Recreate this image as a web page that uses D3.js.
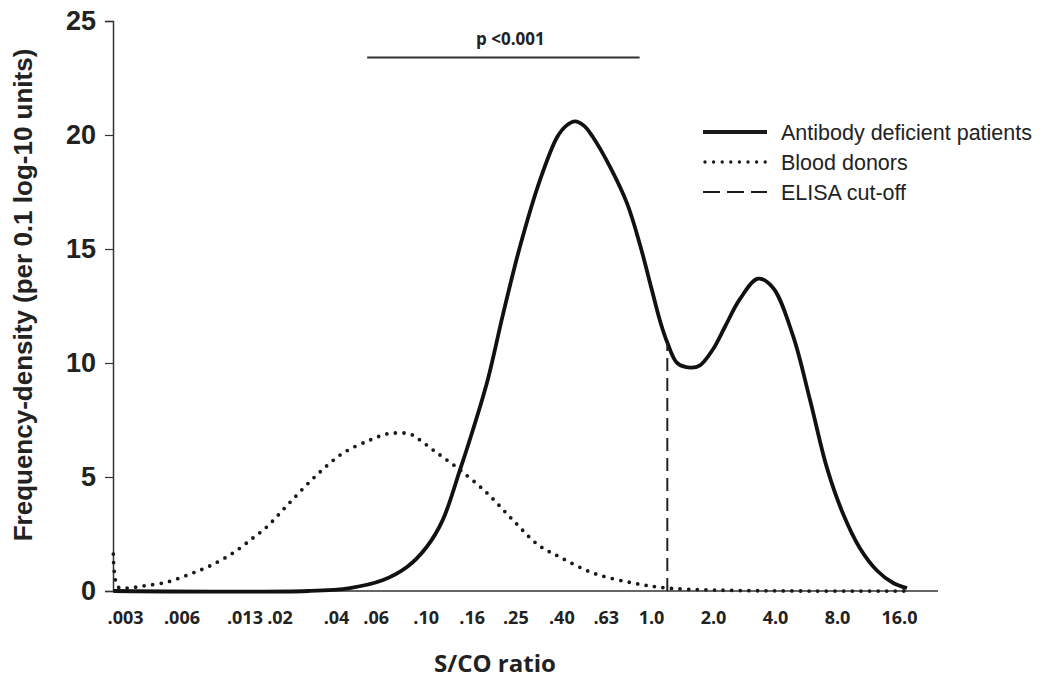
<!DOCTYPE html>
<html>
<head>
    <meta charset="utf-8">
    <title>S/CO ratio frequency density</title>
    <script src="https://cdn.jsdelivr.net/npm/d3@7/dist/d3.min.js"></script>
    <style>
        body { margin: 0; background: #fff; }
        svg { display: block; }
        .tick-x { font-family: "Open Sans", sans-serif; font-weight: 700; font-size: 18px; fill: #222; }
        .tick-y { font-family: "Liberation Sans", Arial, sans-serif; font-weight: 700; font-size: 27px; fill: #222; }
        .legend text { font-family: "Liberation Sans", Arial, sans-serif; font-size: 21.5px; fill: #222; }
    </style>
</head>
<body>
<svg width="1052" height="678"></svg>
<script>
    // x-axis tick values (S/CO ratio) and how they are printed
    const tickValues = [0.003, 0.006, 0.013, 0.02, 0.04, 0.06, 0.1, 0.16, 0.25, 0.4, 0.63, 1, 2, 4, 8, 16];
    const tickLabels = ['.003', '.006', '.013', '.02', '.04', '.06', '.10', '.16', '.25', '.40', '.63', '1.0', '2.0', '4.0', '8.0', '16.0'];
    const yTicks = [0, 5, 10, 15, 20, 25];

    // Antibody deficient patients (S/CO ratio, frequency-density)
    const patientsX = [0.0026, 0.0283, 0.0461, 0.0647, 0.0826, 0.101, 0.119, 0.142, 0.162, 0.189, 0.220, 0.262,
        0.321, 0.383, 0.42, 0.46, 0.505, 0.553, 0.658, 0.783, 0.893, 1.01, 1.11, 1.20, 1.34, 1.55, 1.73, 2.0,
        2.29, 2.70, 3.31, 3.91, 4.89, 5.91, 7.15, 8.55, 10.3, 12.5, 15.0, 17.5];
    const patientsY = [0, 0, 0.13, 0.48, 1.05, 1.93, 3.11, 5.31, 7.06, 9.3, 12.1, 15.1,
        18.0, 19.9, 20.4, 20.6, 20.4, 19.9, 18.6, 17.0, 15.2, 13.2, 11.8, 10.9, 10.0, 9.8, 9.9, 10.6,
        11.6, 12.8, 13.7, 13.3, 11.2, 8.4, 5.4, 3.4, 1.9, 0.9, 0.35, 0.13];

    // Blood donors
    const donorsX = [0.0026, 0.00275, 0.00307, 0.00374, 0.00502, 0.00665, 0.00851, 0.0113, 0.0144, 0.0171, 0.0228,
        0.0316, 0.0430, 0.0566, 0.0673, 0.0746, 0.0851, 0.0944, 0.108, 0.119, 0.142, 0.187, 0.244, 0.316,
        0.394, 0.553, 0.832, 1.20, 2.09, 5.29, 17.5];
    const donorsY = [1.62, 0.18, 0.13, 0.22, 0.39, 0.74, 1.10, 1.67, 2.32, 2.81, 3.90,
        5.09, 6.05, 6.62, 6.89, 6.93, 6.89, 6.62, 6.18, 5.88, 5.31, 4.30, 3.11, 2.02,
        1.49, 0.79, 0.35, 0.13, 0.04, 0, 0];

    const cutoff = 1.2;          // ELISA cut-off
    const cutoffTop = 10.9;      // where the dashed line meets the patient curve
    const pBar = [0.055, 0.89];  // extent of the significance bar
    const pBarLevel = 23.4;
    const pText = 'p <0.001';

    const legendItems = ['Antibody deficient patients', 'Blood donors', 'ELISA cut-off'];

    const svg = d3.select('svg');

    // x is a log scale, split in three pieces so the printed labels sit where the original put them
    const x = d3.scaleLog()
        .domain([0.003, 0.04, 1, 16])
        .range([125, 336, 651, 899]);
    const y = d3.scaleLinear().domain([0, 25]).range([591, 21]);

    const axisLeft = 113, axisRight = 938;

    // axes
    svg.append('line')
        .attr('x1', axisLeft).attr('x2', axisRight)
        .attr('y1', y(0)).attr('y2', y(0))
        .attr('stroke', '#333').attr('stroke-width', 1.5);

    const gy = svg.append('g').attr('transform', `translate(${axisLeft},0)`)
        .call(d3.axisLeft(y).tickValues(yTicks).tickSize(8).tickPadding(9));
    gy.select('.domain').attr('stroke', '#333').attr('stroke-width', 1.5);
    gy.selectAll('.tick line').attr('stroke', '#333').attr('stroke-width', 1.2);
    gy.selectAll('.tick text').attr('class', 'tick-y').attr('font-size', null).attr('font-family', null);

    const gx = svg.append('g').attr('transform', `translate(0,${y(0)})`)
        .call(d3.axisBottom(x).tickValues(tickValues).tickSize(0).tickPadding(20)
            .tickFormat((d, i) => tickLabels[i]));
    gx.select('.domain').remove();
    gx.selectAll('.tick text').attr('class', 'tick-x').attr('font-size', null).attr('font-family', null);

    // axis titles
    svg.append('text')
        .attr('x', 495).attr('y', 672)
        .attr('text-anchor', 'middle')
        .style('font-family', '"Open Sans", sans-serif')
        .style('font-weight', 700).style('font-size', '24px').style('fill', '#222')
        .text('S/CO ratio');

    svg.append('text')
        .attr('transform', 'translate(32,295) rotate(-90)')
        .attr('text-anchor', 'middle')
        .style('font-family', '"Liberation Sans", Arial, sans-serif')
        .style('font-weight', 700).style('font-size', '26px').style('fill', '#222')
        .text('Frequency-density (per 0.1 log-10 units)');

    // curves
    const line = d3.line()
        .x(d => x(d[0]))
        .y(d => Math.min(y(0), y(d[1])))
        .curve(d3.curveCatmullRom.alpha(0.5));

    svg.append('path')
        .datum(donorsX.map((v, i) => [v, donorsY[i]]))
        .attr('d', line)
        .attr('fill', 'none')
        .attr('stroke', '#1a1a1a')
        .attr('stroke-width', 3.8)
        .attr('stroke-linecap', 'round')
        .attr('stroke-dasharray', '0 8.6');

    svg.append('path')
        .datum(patientsX.map((v, i) => [v, patientsY[i]]))
        .attr('d', line)
        .attr('fill', 'none')
        .attr('stroke', '#111')
        .attr('stroke-width', 3.8);

    svg.append('line')
        .attr('x1', x(cutoff)).attr('x2', x(cutoff))
        .attr('y1', y(0)).attr('y2', y(cutoffTop))
        .attr('stroke', '#222')
        .attr('stroke-width', 2)
        .attr('stroke-dasharray', '13 7');

    // significance bar
    svg.append('line')
        .attr('x1', x(pBar[0])).attr('x2', x(pBar[1]))
        .attr('y1', y(pBarLevel)).attr('y2', y(pBarLevel))
        .attr('stroke', '#333').attr('stroke-width', 2);
    svg.append('text')
        .attr('x', (x(pBar[0]) + x(pBar[1])) / 2 + 7)
        .attr('y', y(pBarLevel) - 12)
        .attr('text-anchor', 'middle')
        .style('font-family', '"Open Sans", sans-serif')
        .style('font-weight', 700).style('font-size', '17px').style('fill', '#222')
        .text(pText);

    // legend
    const legend = svg.append('g').attr('class', 'legend').attr('transform', 'translate(703,132)');
    const styles = [
        { width: 3.8, dash: null, cap: 'butt' },
        { width: 3.4, dash: '0 8.6', cap: 'round' },
        { width: 2, dash: '17 7', cap: 'butt' }
    ];
    const rows = legend.selectAll('g').data(legendItems).enter().append('g')
        .attr('transform', (d, i) => `translate(0,${[0, 30, 60][i]})`);
    rows.append('line')
        .attr('x1', (d, i) => i === 1 ? 2 : 0).attr('x2', 64)
        .attr('y1', 0).attr('y2', 0)
        .attr('stroke', '#1a1a1a')
        .attr('stroke-width', (d, i) => styles[i].width)
        .attr('stroke-dasharray', (d, i) => styles[i].dash)
        .attr('stroke-linecap', (d, i) => styles[i].cap);
    rows.append('text')
        .attr('x', 78).attr('y', 0).attr('dy', '0.35em')
        .text(d => d);
</script>
</body>
</html>
